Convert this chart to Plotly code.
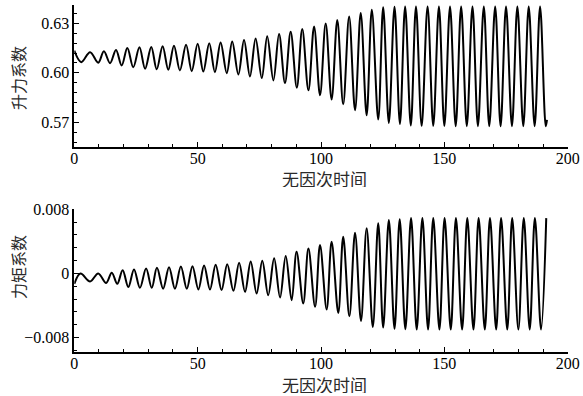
import plotly.graph_objects as go

# ---- data (extrema of the oscillation) ----
lift_t = [0.0, 2.8, 6.4, 9.7, 12.0, 14.5, 16.9, 19.2, 21.5, 23.9, 26.4, 28.7, 31.2, 33.4,
          35.8, 38.1, 40.4, 42.8, 45.3, 47.6, 50.0, 52.3, 54.7, 57.0, 59.3, 61.8, 64.0,
          66.5, 68.8, 71.2, 73.5, 76.0, 78.2, 80.7, 83.0, 85.4, 87.7, 90.2, 92.4, 94.9,
          97.2, 99.6, 101.9, 104.3, 106.6, 109.0, 111.4, 113.8, 116.1, 118.5, 120.6,
          123.2, 125.2, 127.5, 129.8, 132.0, 134.1, 136.4, 138.5, 140.8, 143.2, 145.5,
          147.8, 150.0, 152.3, 154.6, 156.8, 159.1, 161.4, 163.6, 166.0, 168.2, 170.6,
          172.8, 175.0, 177.4, 179.6, 182.0, 184.2, 186.6, 188.8, 191.1, 191.6]
lift_v = [0.6135, 0.6065, 0.6125, 0.6062, 0.6131, 0.6059, 0.6139, 0.6045, 0.6151, 0.6034,
          0.6155, 0.6025, 0.6157, 0.6022, 0.6161, 0.6019, 0.6165, 0.6015, 0.6170, 0.6010,
          0.6176, 0.6008, 0.6179, 0.6004, 0.6185, 0.5998, 0.6191, 0.5990, 0.6200, 0.5978,
          0.6209, 0.5968, 0.6222, 0.5954, 0.6236, 0.5938, 0.6250, 0.5910, 0.6266, 0.5894,
          0.6282, 0.5864, 0.6300, 0.5838, 0.6321, 0.5809, 0.6342, 0.5773, 0.6363, 0.5743,
          0.6383, 0.5717, 0.6398, 0.5696, 0.6402, 0.5689, 0.6403, 0.5680, 0.6403, 0.5678,
          0.6403, 0.5678, 0.6403, 0.5678, 0.6403, 0.5676, 0.6403, 0.5676, 0.6403, 0.5676,
          0.6403, 0.5676, 0.6403, 0.5676, 0.6403, 0.5676, 0.6403, 0.5676, 0.6403, 0.5676,
          0.6403, 0.5676, 0.5715]

moment_t = [0.0, 2.5, 6.4, 9.7, 12.9, 15.2, 17.4, 19.6, 21.9, 24.2, 26.6, 29.1, 31.4, 33.5,
            36.0, 38.4, 40.8, 43.2, 45.6, 47.9, 50.3, 52.6, 55.0, 57.3, 59.7, 62.0, 64.5,
            66.8, 69.2, 71.5, 73.9, 76.2, 78.6, 81.0, 83.4, 85.7, 88.1, 90.1, 92.8, 94.9,
            97.6, 99.6, 102.3, 104.3, 107.0, 109.0, 111.5, 113.8, 116.2, 118.5, 121.0,
            123.2, 125.2, 127.5, 129.8, 131.9, 134.2, 136.5, 138.8, 141.1, 143.4, 145.5,
            148.0, 150.1, 152.6, 154.7, 157.2, 159.3, 161.8, 163.9, 166.4, 168.5, 171.0,
            173.0, 175.5, 177.5, 180.0, 182.2, 184.6, 186.7, 189.2, 191.3]
moment_v = [-0.0013, 0.0000, -0.0010, 0.0000, -0.0012, 0.0001, -0.0013, 0.0004, -0.0017,
            0.0005, -0.0018, 0.0006, -0.0018, 0.0007, -0.0019, 0.00078, -0.0019, 0.00085,
            -0.0019, 0.00091, -0.0020, 0.0010, -0.0020, 0.00108, -0.00208, 0.00116,
            -0.00217, 0.00133, -0.0023, 0.0015, -0.0025, 0.00158, -0.00271, 0.00188,
            -0.0030, 0.00216, -0.00334, 0.0027, -0.00375, 0.0031, -0.00417, 0.00354,
            -0.0045, 0.00395, -0.00492, 0.00458, -0.00534, 0.00508, -0.00592, 0.00563,
            -0.00667, 0.00625, -0.00675, 0.00665, -0.0069, 0.00675, -0.00695, 0.0069,
            -0.0070, 0.0069, -0.0070, 0.0069, -0.0070, 0.0069, -0.0070, 0.0069, -0.0070,
            0.0069, -0.0070, 0.0069, -0.0070, 0.0069, -0.0070, 0.0069, -0.0070, 0.0069,
            -0.0070, 0.0069, -0.0070, 0.0069, -0.0070, 0.0069]

x_ticks = [0, 50, 100, 150, 200]
lift_ticks = [0.57, 0.60, 0.63]
lift_ticktext = ["0.57", "0.60", "0.63"]
moment_ticks = [-0.008, 0, 0.008]
moment_ticktext = ["\u22120.008", "0", "0.008"]
x_title = "无因次时间"
lift_title = "升力系数"
moment_title = "力矩系数"

W, H = 583, 396
FONT = "Times New Roman, Liberation Serif, DejaVu Serif, serif"
CJK = "Noto Sans CJK SC"

def fx(px):
    return px / W

def fy(py):
    return 1 - py / H

fig = go.Figure()
fig.add_trace(go.Scatter(x=lift_t, y=lift_v, mode="lines",
                         line=dict(color="black", width=2, shape="spline", smoothing=1),
                         xaxis="x", yaxis="y", showlegend=False))
fig.add_trace(go.Scatter(x=moment_t, y=moment_v, mode="lines",
                         line=dict(color="black", width=2, shape="spline", smoothing=1),
                         xaxis="x2", yaxis="y2", showlegend=False))

xcommon = dict(range=[0, 200], tickvals=x_ticks, ticks="inside", ticklen=5, tickwidth=1.2,
               showline=True, linecolor="black", linewidth=1.5, showgrid=False, zeroline=False,
               automargin=False, ticklabelstandoff=-4,
               tickfont=dict(family=FONT, size=16, color="black"),
               minor=dict(dtick=10, tick0=0, ticks="inside", ticklen=3, tickwidth=1.2,
                          tickcolor="black", showgrid=False),
               domain=[fx(74.3), fx(567.7)], tickcolor="black")

ycommon = dict(ticks="inside", ticklen=5, tickwidth=1.2, tickcolor="black", showline=True,
               linecolor="black", linewidth=1.5, showgrid=False, zeroline=False,
               automargin=False, tickfont=dict(family=FONT, size=16, color="black"))

xt_font = dict(family=CJK, size=17, color="#2a2a2a")
yt_font = dict(family=CJK, size=16, color="#2a2a2a")

fig.update_layout(
    template="none",
    font=dict(family=FONT),
    width=W, height=H, margin=dict(l=0, r=0, t=0, b=0, autoexpand=False),
    paper_bgcolor="white", plot_bgcolor="white",
    xaxis=dict(anchor="y", **xcommon),
    xaxis2=dict(anchor="y2", **xcommon),
    yaxis=dict(domain=[fy(147), fy(5)], range=[0.55497, 0.6412], anchor="x",
               tickvals=lift_ticks, ticktext=lift_ticktext,
               minor=dict(dtick=0.006, tick0=0.57, ticks="inside", ticklen=3, tickwidth=1.2,
                          tickcolor="black", showgrid=False), **ycommon),
    yaxis2=dict(domain=[fy(352), fy(209.3)], range=[-0.0098, 0.008], anchor="x2",
                tickvals=moment_ticks, ticktext=moment_ticktext,
                minor=dict(dtick=0.0016, tick0=0, ticks="inside", ticklen=3, tickwidth=1.2,
                           tickcolor="black", showgrid=False), **ycommon),
    annotations=[
        dict(text=x_title, x=fx(325), y=fy(178), xref="paper", yref="paper",
             xanchor="center", yanchor="middle", height=17,
             showarrow=False, font=xt_font),
        dict(text=x_title, x=fx(325), y=fy(384), xref="paper", yref="paper",
             xanchor="center", yanchor="middle", height=17,
             showarrow=False, font=xt_font),
        dict(text=lift_title, x=fx(18), y=fy(78), xref="paper", yref="paper",
             xanchor="center", yanchor="middle",
             showarrow=False, textangle=-90, font=yt_font),
        dict(text=moment_title, x=fx(18), y=fy(267), xref="paper", yref="paper",
             xanchor="center", yanchor="middle",
             showarrow=False, textangle=-90, font=yt_font),
    ],
)

fig.write_html("out.html")
